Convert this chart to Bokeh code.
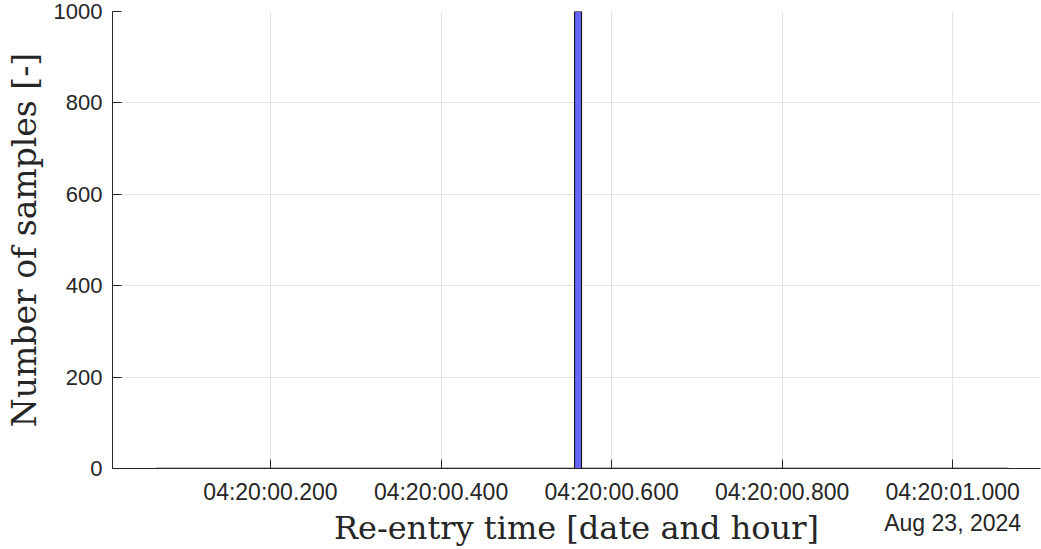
from bokeh.plotting import figure
from bokeh.models import FixedTicker, Range1d
from bokeh.embed import file_html
from bokeh.resources import INLINE

# Histogram of re-entry time (seconds after 2024-08-23 04:20:00)
hist_start = 0.0655          # first bin left edge
hist_end = 1.0655            # last bin right edge
peak_left = 0.5566           # the only non-empty bin
peak_right = 0.5648
peak_count = 1000

x_ticks = [0.2, 0.4, 0.6, 0.8, 1.0]
x_tick_labels = ["04:20:00.200", "04:20:00.400", "04:20:00.600",
                 "04:20:00.800", "04:20:01.000"]
y_ticks = [0, 200, 400, 600, 800, 1000]
date_label = "Aug 23, 2024"

AX = "#262626"
p = figure(width=1041, height=549, output_backend="svg", toolbar_location=None,
           x_range=Range1d(0.0147, 1.103), y_range=Range1d(0, 1000),
           min_border_left=112, min_border_right=1, min_border_top=11,
           min_border_bottom=81)
p.outline_line_color = None
p.background_fill_color = "white"

# zero-height bins along the baseline, then the populated bin
p.segment(x0=[hist_start], y0=[0], x1=[hist_end], y1=[0], line_color="black", line_width=1.5)
p.quad(left=[peak_left], right=[peak_right], bottom=[0], top=[peak_count],
       fill_color="#6666ff", line_color="black", line_width=1)

labels = dict(zip(x_ticks, x_tick_labels))
labels[x_ticks[-1]] = x_tick_labels[-1] + "\n" + date_label
p.xaxis.ticker = FixedTicker(ticks=x_ticks)
p.xaxis.major_label_overrides = labels
p.yaxis.ticker = FixedTicker(ticks=y_ticks)

for ax in (p.xaxis[0], p.yaxis[0]):
    ax.axis_line_color = AX
    ax.major_tick_line_color = AX
    ax.major_tick_in = 9
    ax.major_tick_out = 0
    ax.minor_tick_line_color = None
    ax.major_label_text_font = "Liberation Sans"
    ax.major_label_text_color = AX
    ax.axis_label_text_font = "DejaVu Serif"
    ax.axis_label_text_font_style = "normal"
    ax.axis_label_text_color = AX

p.xaxis.major_label_text_font_size = "23px"
p.yaxis.major_label_text_font_size = "22px"
p.xaxis.axis_label_text_font_size = "32px"
p.yaxis.axis_label_text_font_size = "33px"
p.xaxis.axis_label = "Re-entry time [date and hour]"
p.yaxis.axis_label = "Number of samples [-]"
p.xaxis.major_label_standoff = 10
p.xaxis.axis_label_standoff = -30
p.yaxis.major_label_standoff = 10
p.yaxis.axis_label_standoff = 7

p.xgrid.ticker = FixedTicker(ticks=x_ticks)
p.ygrid.ticker = FixedTicker(ticks=y_ticks)
p.grid.grid_line_color = "#e3e3e3"
p.grid.grid_line_width = 1

open("out.html", "w").write(file_html(p, INLINE))
